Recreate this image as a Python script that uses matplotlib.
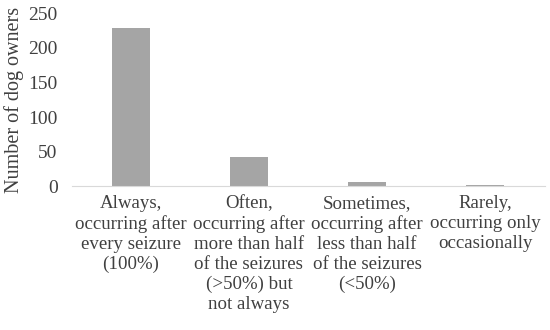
import matplotlib
matplotlib.use("Agg")
import matplotlib.pyplot as plt

categories = [
    "Always,\noccurring after\nevery seizure\n(100%)",
    "Often,\noccurring after\nmore than half\nof the seizures\n(>50%) but\nnot always",
    "Sometimes,\noccurring after\nless than half\nof the seizures\n(<50%)",
    "Rarely,\noccurring only\noccasionally",
]
values = [228, 42, 7, 2]
yticks = [0, 50, 100, 150, 200, 250]

plt.rcParams['font.family'] = ['Liberation Serif', 'DejaVu Serif']
fig = plt.figure(figsize=(5.5, 3.3), dpi=100)
ax = fig.add_axes([0.13, 0.435, 0.86, 0.525])
x = range(len(categories))
ax.bar(x, values, width=0.32, color='#a5a5a5')
ax.set_xlim(-0.5, 3.5)
ax.set_ylim(0, 250)
ax.set_yticks(yticks)
ax.set_xticks(list(x))
ax.set_xticklabels(categories, fontsize=13.6, color='#404040', linespacing=1.23)
ax.tick_params(axis='y', labelsize=14, colors='#404040', length=0, pad=10)
ax.tick_params(axis='x', length=0, pad=6)
for s in ['top', 'right', 'left']:
    ax.spines[s].set_visible(False)
ax.spines['bottom'].set_color('#d9d9d9')
ax.set_ylabel('Number of dog owners', fontsize=14.5, color='#404040', labelpad=3)
fig.savefig('out.png', dpi=100)
